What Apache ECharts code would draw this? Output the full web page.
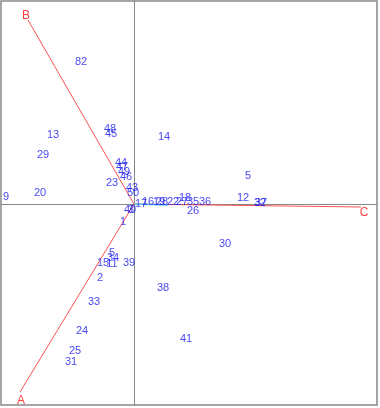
<!DOCTYPE html>
<html>
<head>
<meta charset="utf-8">
<script src="https://cdn.jsdelivr.net/npm/echarts@6/dist/echarts.min.js"></script>
<style>
  html, body { margin: 0; padding: 0; background: #fff; }
</style>
</head>
<body>
<div id="main" style="width: 380px; height: 408px"></div>
<script>
// point labels and their scores
const pointNames = ['82', '13', '48', '45', '14', '29', '44', '47', '49', '46',
  '23', '43', '50', '9', '20', '17', '16', '19', '28', '22',
  '27', '18', '35', '36', '26', '5', '12', '32', '37', '40',
  '3', '1', '5', '34', '15', '11', '39', '2', '38', '30',
  '33', '24', '25', '31', '41']
const pointX = [-0.53, -0.81, -0.24, -0.23, 0.30, -0.91, -0.13, -0.12, -0.10, -0.08,
  -0.22, -0.02, -0.01, -1.28, -0.94, 0.07, 0.14, 0.25, 0.28, 0.39,
  0.48, 0.51, 0.59, 0.71, 0.59, 1.14, 1.09, 1.26, 1.27, -0.04,
  -0.03, -0.11, -0.22, -0.21, -0.31, -0.22, -0.05, -0.34, 0.29, 0.91,
  -0.40, -0.52, -0.59, -0.63, 0.52]
const pointY = [1.42, 0.69, 0.75, 0.70, 0.67, 0.49, 0.41, 0.37, 0.32, 0.27,
  0.21, 0.16, 0.11, 0.07, 0.11, 0.00, 0.02, 0.02, 0.02, 0.02,
  0.02, 0.06, 0.02, 0.02, -0.07, 0.28, 0.06, 0.01, 0.01, -0.06,
  -0.06, -0.18, -0.49, -0.54, -0.59, -0.60, -0.59, -0.74, -0.84, -0.40,
  -0.98, -1.27, -1.47, -1.58, -1.35]

// variable arrows
const arrowNames = ['A', 'B', 'C']
const arrowX = [-1.14, -1.06, 2.27]
const arrowY = [-1.88, 1.84, -0.03]
const arrowLabelX = [-1.13, -1.08, 2.30]
const arrowLabelY = [-1.97, 1.88, -0.09]
// short light blue segment along the x axis
const shortX = 0.34
const shortY = -0.01

const chart = echarts.init(document.getElementById('main'))

const series = []
series.push({
  type: 'scatter',
  symbolSize: 0,
  silent: true,
  data: pointNames.map((n, i) => ({ name: n, value: [pointX[i], pointY[i]] })),
  label: {
    show: true,
    position: 'inside',
    formatter: p => p.name,
    color: '#1414f0',
    fontSize: 11,
    fontFamily: 'Liberation Sans'
  },
  z: 5
})
arrowNames.forEach((n, i) => {
  series.push({
    type: 'line',
    symbol: 'none',
    silent: true,
    lineStyle: { color: '#ff5050', width: 1 },
    data: [[0, 0], [arrowX[i], arrowY[i]]],
    z: 3
  })
})
series.push({
  type: 'line',
  symbol: 'none',
  silent: true,
  lineStyle: { color: '#55ccee', width: 1.5 },
  data: [[0, 0], [shortX, shortY]],
  z: 4
})
series.push({
  type: 'scatter',
  symbolSize: 0,
  silent: true,
  data: arrowNames.map((n, i) => ({ name: n, value: [arrowLabelX[i], arrowLabelY[i]] })),
  label: {
    show: true,
    position: 'inside',
    formatter: p => p.name,
    color: '#ff1010',
    fontSize: 12,
    fontFamily: 'Liberation Sans'
  },
  z: 5
})

const option = {
  animation: false,
  grid: {
    left: 1, right: 3, top: 1, bottom: 3,
    show: true,
    borderColor: '#888',
    borderWidth: 1.5,
    backgroundColor: '#fff'
  },
  xAxis: {
    type: 'value',
    min: -1.33,
    max: 2.43,
    axisLine: { onZero: true, lineStyle: { color: '#888', width: 1 } },
    axisTick: { show: false },
    axisLabel: { show: false },
    splitLine: { show: false }
  },
  yAxis: {
    type: 'value',
    min: -2.01,
    max: 2.03,
    axisLine: { onZero: true, lineStyle: { color: '#888', width: 1 } },
    axisTick: { show: false },
    axisLabel: { show: false },
    splitLine: { show: false }
  },
  series: series
}
chart.setOption(option)
</script>
</body>
</html>
